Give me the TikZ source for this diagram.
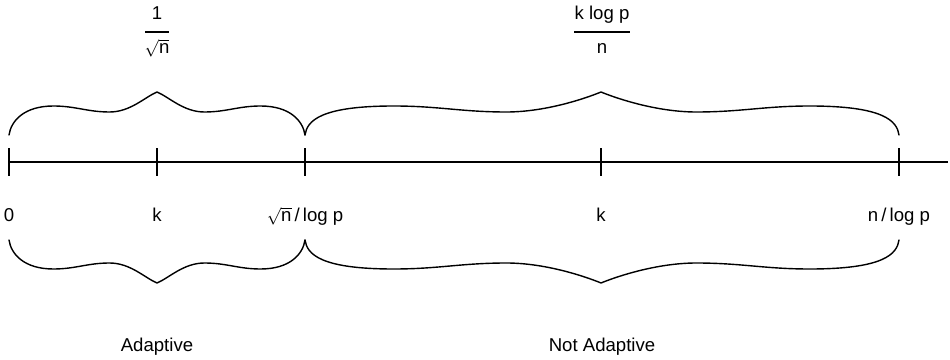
\documentclass[tikz,border=0pt]{standalone}
\usepackage{fontspec}
\setmainfont{Liberation Sans}
\newcommand\sqn{$\sqrt{\mbox{n}}$}
\newcommand\mybrace[3]{%
  \pgfmathsetmacro\La{#2-#1}%
  \pgfmathsetmacro\Lb{#3-#2}%
  \draw[bracestyle] (#1,0) .. controls ({#1+2},14) and ({#1+15},29) .. ({#1+0.3*\La},29)
    .. controls ({#1+0.45*\La},29) and ({#1+0.53*\La},23) .. ({#1+0.68*\La},23)
    .. controls ({#1+0.82*\La},23) and ({#2-12},38) .. (#2,43)
    .. controls ({#2+12},38) and ({#3-0.82*\Lb},23) .. ({#3-0.68*\Lb},23)
    .. controls ({#3-0.53*\Lb},23) and ({#3-0.45*\Lb},29) .. ({#3-0.3*\Lb},29)
    .. controls ({#3-15},29) and ({#3-2},14) .. (#3,0);%
}
\begin{document}
\begin{tikzpicture}[x=1pt,y=1pt,
  lbl/.style={anchor=base,inner sep=0pt,font=\fontsize{18.6}{20}\selectfont},
  axisline/.style={line width=1.2pt},
  tickmark/.style={line width=1.5pt},
  bracestyle/.style={line width=1.4pt,line join=round,line cap=round},
  fracbar/.style={line width=1.2pt}]
\useasboundingbox (0,0) rectangle (950,359);
% axis
\coordinate (a0) at (9,197);
\coordinate (aend) at (948,197);
\draw[axisline] (a0) -- (aend);
\foreach \n/\x in {t0/9,t1/157,t2/305,t3/601,t4/899}{
  \coordinate (\n) at (\x,197);
  \draw[tickmark] ([yshift=-14pt]\n) -- ([yshift=14pt]\n);
}
% tick labels
\node[lbl] (l0) at (9,137) {0};
\node[lbl] (l1) at (157,137) {k};
\node[lbl] (l2) at (305,137) {\sqn\,/\,log p};
\node[lbl] (l3) at (601,137) {k};
\node[lbl] (l4) at (899,137) {n\,/\,log p};
% top braces
\begin{scope}[yshift=224pt]
  \mybrace{9}{157}{305}
  \mybrace{305}{601}{899}
\end{scope}
% bottom braces
\begin{scope}[yshift=119pt,yscale=-1]
  \mybrace{9}{157}{305}
  \mybrace{305}{601}{899}
\end{scope}
% fractions
\node[lbl] (n1) at (157,339) {1};
\coordinate (b1l) at (145,327);
\coordinate (b1r) at (169,327);
\draw[fracbar] (b1l) -- (b1r);
\node[lbl] (d1) at (157,305) {\sqn};
\node[lbl] (n2) at (602,339) {k log p};
\coordinate (b2l) at (574,327);
\coordinate (b2r) at (630,327);
\draw[fracbar] (b2l) -- (b2r);
\node[lbl] (d2) at (602,305) {n};
% region labels
\node[lbl] (ad) at (157,8) {Adaptive};
\node[lbl] (nad) at (602,8) {Not Adaptive};
\end{tikzpicture}
\end{document}
